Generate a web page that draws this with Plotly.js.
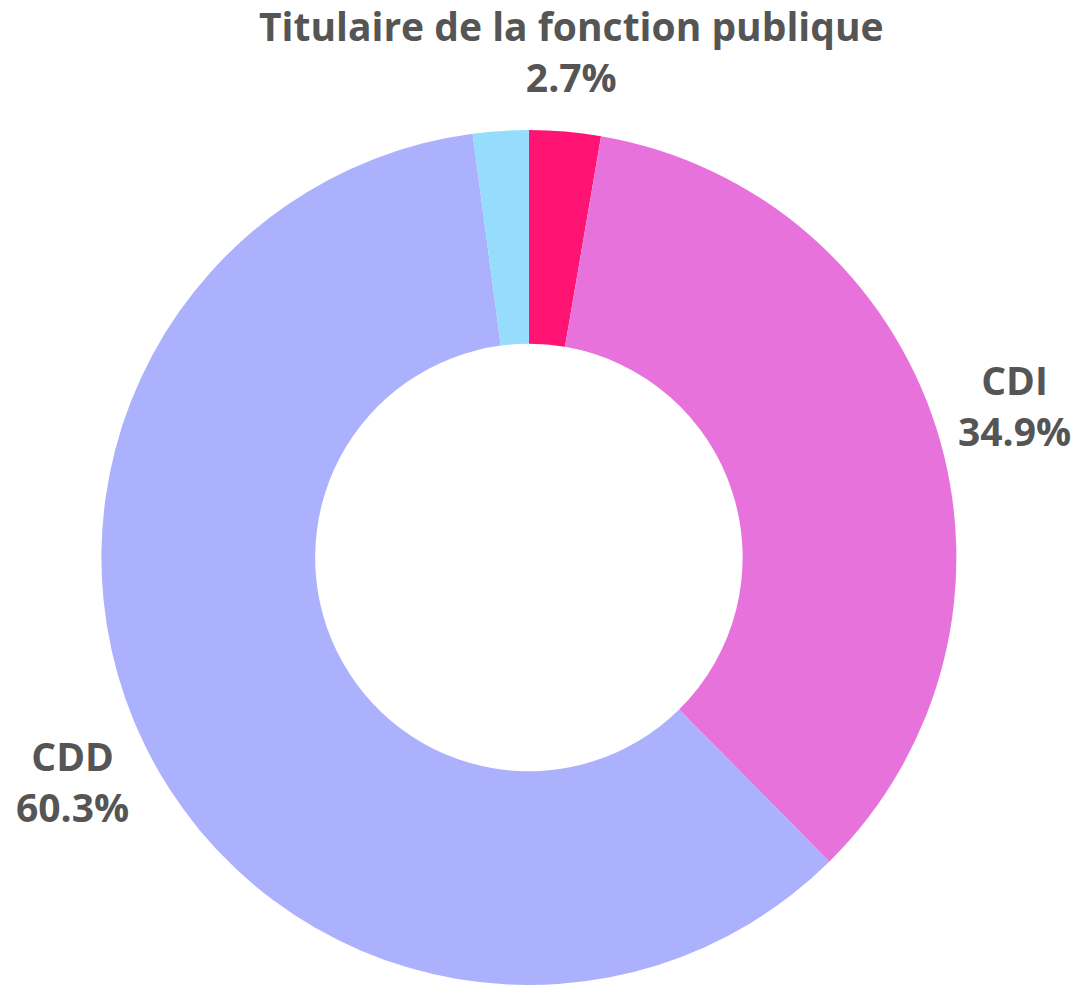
<!DOCTYPE html>
<html>
<head>
<meta charset="utf-8">
<script src="https://cdn.plot.ly/plotly-3.0.1.min.js"></script>
<style>html,body{margin:0;padding:0;background:#fff;}#chart{width:1075px;height:985px;}</style>
</head>
<body>
<div id="chart"></div>
<script>
const labels = ["Titulaire de la fonction publique", "CDI", "CDD", "Autre"];
const values = [2.7, 34.9, 60.3, 2.1];
const colors = ["#FF1473", "#E872DC", "#ABB1FD", "#96DDFD"];
const showText = [true, true, true, false];

const W = 1075, H = 985;
const domX = [0.093, 0.891], domY = [0, 0.868];

const trace = {
  type: "pie",
  labels: labels,
  values: values,
  hole: 0.5,
  sort: false,
  direction: "clockwise",
  rotation: 0,
  marker: {colors: colors, line: {width: 0}},
  textinfo: "none",
  hoverinfo: "label+percent",
  domain: {x: domX, y: domY}
};

// label placement derived from slice mid-angles
const total = values.reduce((a, b) => a + b, 0);
const cxPx = (domX[0] + domX[1]) / 2 * W;
const cyPx = H * (1 - (domY[0] + domY[1]) / 2);
const radius = Math.min((domX[1] - domX[0]) * W, (domY[1] - domY[0]) * H) / 2;
const labelR = radius * 1.19;
let cum = 0;
const annotations = [];
values.forEach((v, i) => {
  const mid = (cum + v / 2) / total * 2 * Math.PI;
  cum += v;
  if (!showText[i]) return;
  const px = cxPx + labelR * Math.sin(mid);
  const py = cyPx - labelR * Math.cos(mid);
  const pct = (v / total * 100).toFixed(1) + "%";
  annotations.push({
    xref: "paper", yref: "paper",
    x: px / W, y: 1 - py / H,
    xanchor: "center", yanchor: "middle",
    showarrow: false,
    text: "<b>" + labels[i] + "</b><br><b>" + pct + "</b>",
    font: {family: "Open Sans", size: 39, color: "#555555"},
    align: "center"
  });
});

Plotly.newPlot("chart", [trace], {
  width: W, height: H,
  margin: {l: 0, r: 0, t: 0, b: 0},
  showlegend: false,
  paper_bgcolor: "#ffffff",
  annotations: annotations
}, {displayModeBar: false});
</script>
</body>
</html>
